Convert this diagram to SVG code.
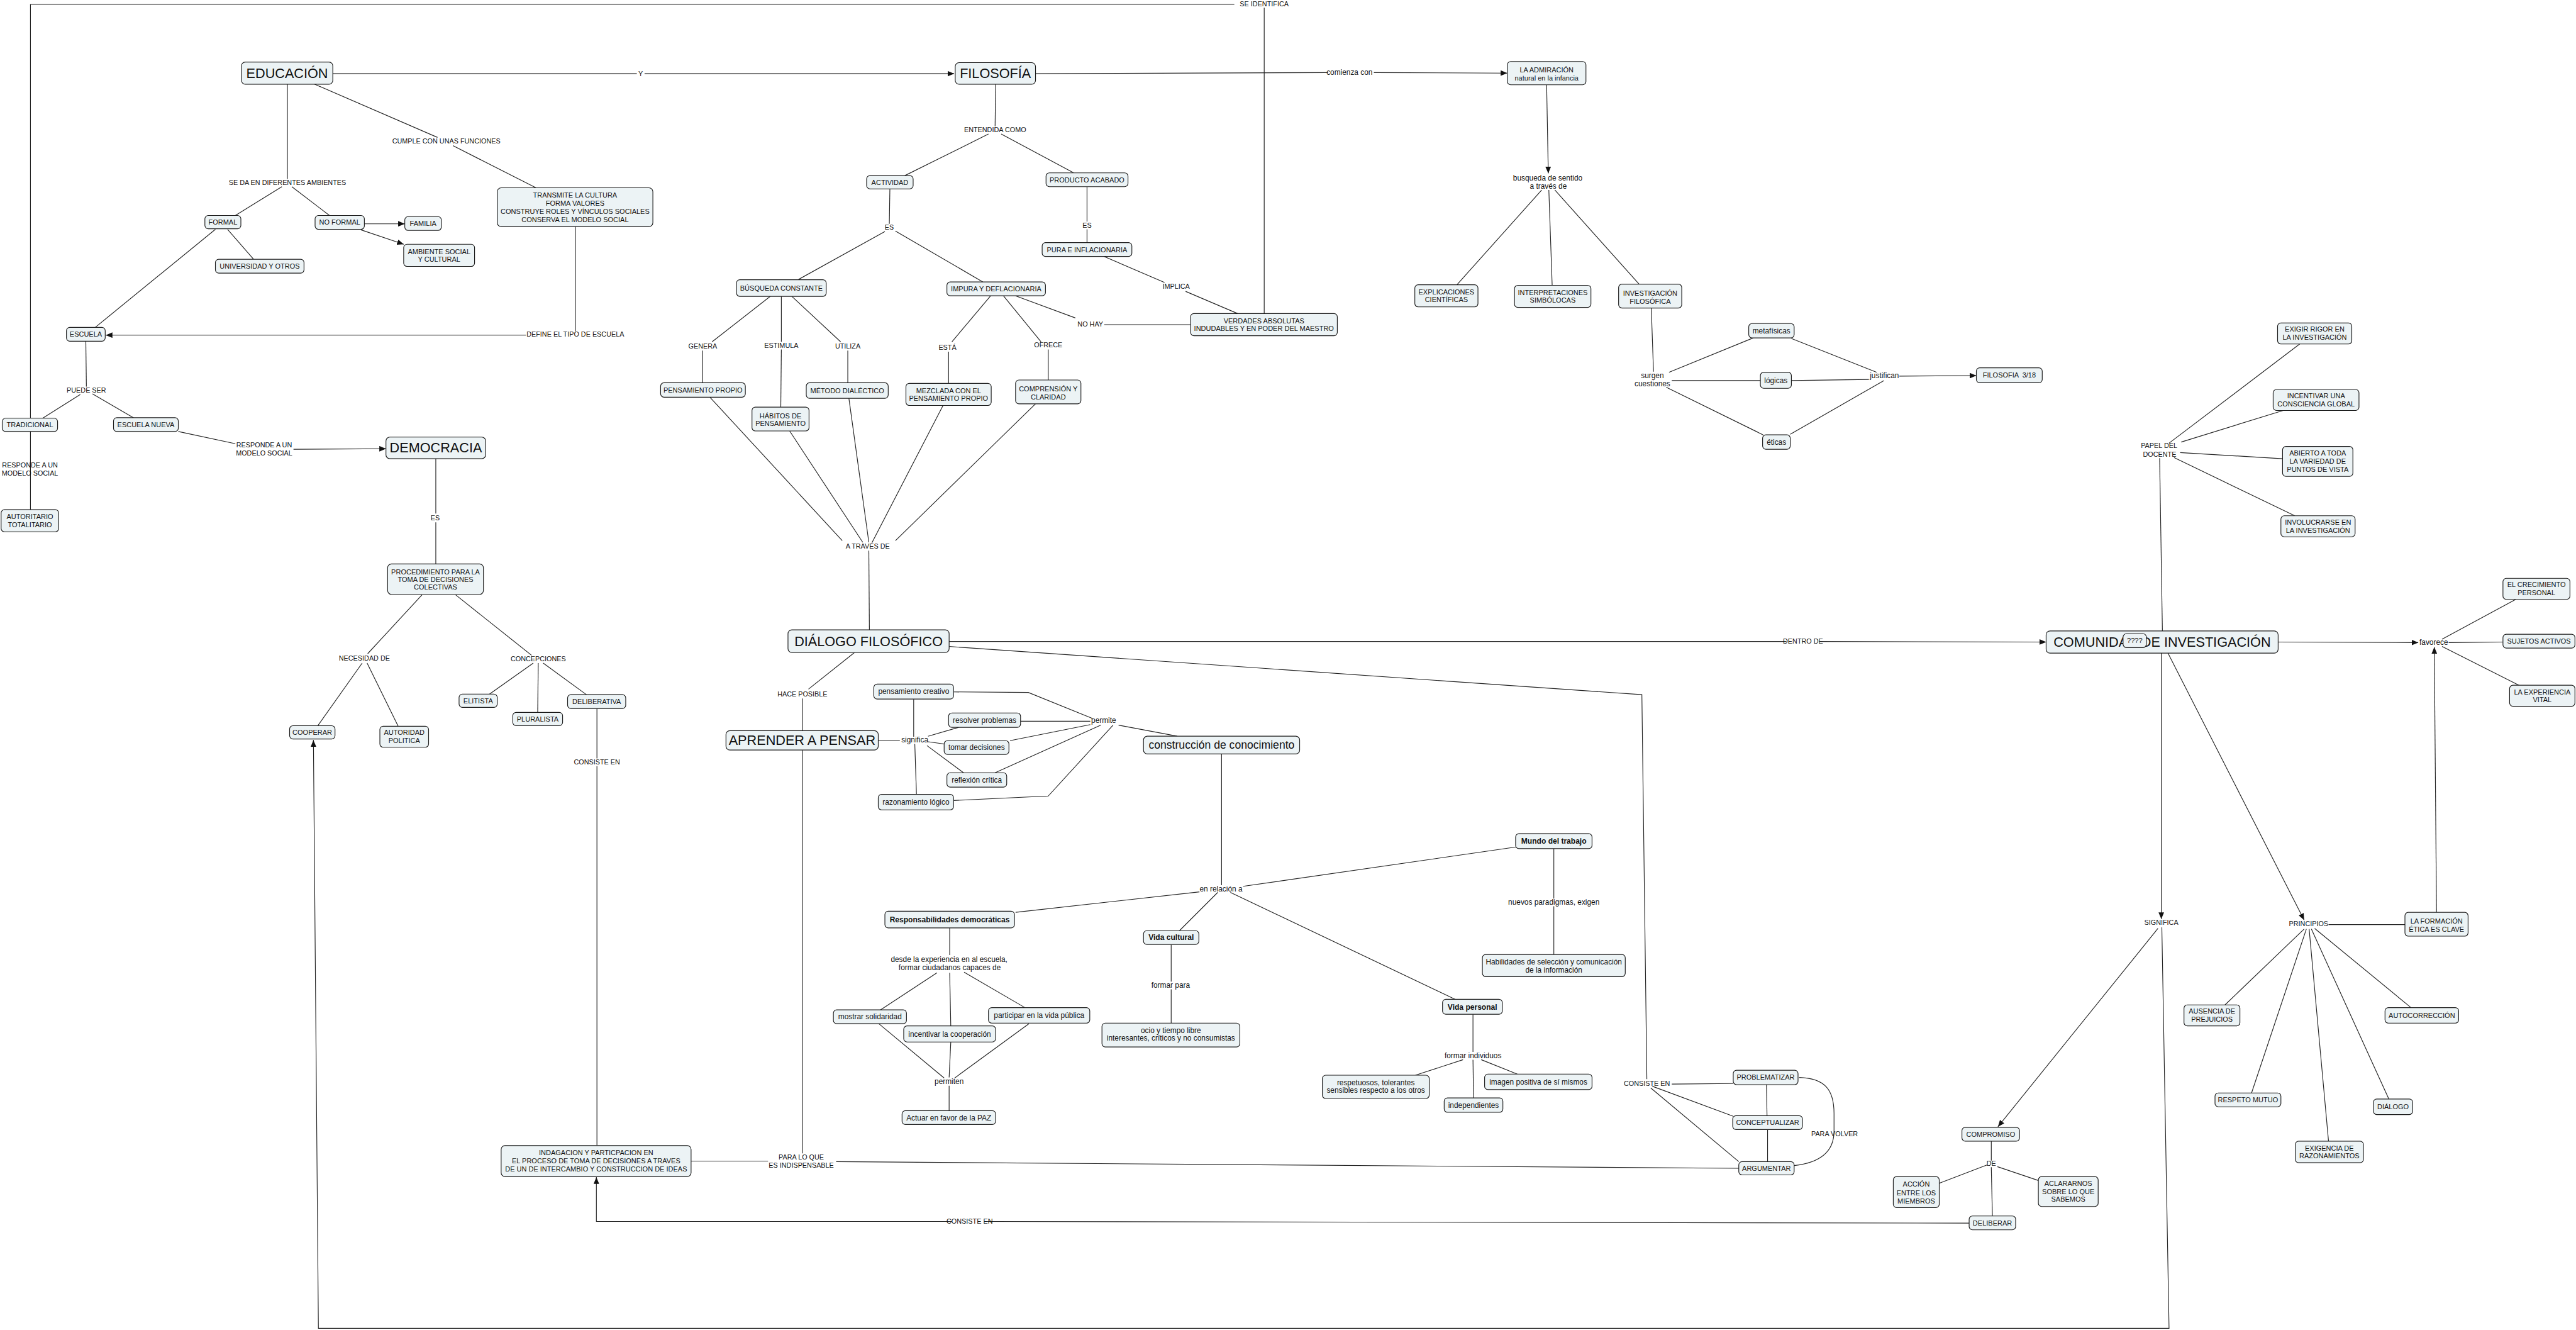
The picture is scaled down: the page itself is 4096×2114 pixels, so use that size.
<svg xmlns="http://www.w3.org/2000/svg" width="4096" height="2114" viewBox="0 0 4096 2114">
<style>
.box{fill:#ecf3f5;stroke:#1a1a1a;stroke-width:1.3}
.c{fill:none;stroke:#222;stroke-width:1.3}
text{font-family:"Liberation Sans",Arial,sans-serif;fill:#111;text-anchor:middle;white-space:pre}
.n{font-size:12.5px}
.nl{font-size:13.5px}
.nb{font-size:13.7px;font-weight:bold}
.big{font-size:24.6px}
.med{font-size:20px}
.lab{font-size:12.3px}
.labl{font-size:13.5px}
</style>
<defs>
<marker id="a" viewBox="0 0 12 10" refX="12" refY="5" markerWidth="12" markerHeight="10" markerUnits="userSpaceOnUse" orient="auto"><path d="M0,0 L12,5 L0,10 z" fill="#111"/></marker>
</defs>
<rect width="4096" height="2114" fill="#fff"/>
<g transform="scale(0.8805)">
<g id="connectors">
<path class="c" d="M601,133 L1150,133"/>
<path class="c" d="M1164,133 L1723,133" marker-end="url(#a)"/>
<path class="c" d="M568,152 L790,248"/>
<path class="c" d="M818,263 L968,339"/>
<path class="c" d="M519,152 L519,323"/>
<path class="c" d="M509,337 L425,389"/>
<path class="c" d="M527,337 L595,389"/>
<path class="c" d="M658,404 L731,404" marker-end="url(#a)"/>
<path class="c" d="M652,415 L729,441" marker-end="url(#a)"/>
<path class="c" d="M411,414 L458,468"/>
<path class="c" d="M389,414 L172,591"/>
<path class="c" d="M1039,409 L1039,598"/>
<path class="c" d="M950,605 L191,605" marker-end="url(#a)"/>
<path class="c" d="M155,616 L156,698"/>
<path class="c" d="M145,712 L77,755"/>
<path class="c" d="M167,711 L241,754"/>
<path class="c" d="M322,779 L425,801"/>
<path class="c" d="M530,811 L697,810" marker-end="url(#a)"/>
<path class="c" d="M55,779 L55,920"/>
<path class="c" d="M2283,566 L2283,14"/>
<path class="c" d="M2229,8 L55,8 L55,755"/>
<path class="c" d="M787,828 L787,927"/>
<path class="c" d="M787,943 L787,1018"/>
<path class="c" d="M762,1074 L664,1180"/>
<path class="c" d="M654,1197 L574,1310"/>
<path class="c" d="M663,1197 L719,1311"/>
<path class="c" d="M823,1074 L960,1183"/>
<path class="c" d="M963,1197 L884,1253"/>
<path class="c" d="M972,1197 L971,1286"/>
<path class="c" d="M981,1197 L1059,1254"/>
<path class="c" d="M1078,1279 L1078,1369"/>
<path class="c" d="M1078,1383 L1078,2068"/>
<path class="c" d="M3904,1674 L3917,2398 L575,2398 L566,1336" marker-end="url(#a)"/>
<path class="c" d="M1870,133 L2398,131"/>
<path class="c" d="M2481,131 L2722,132" marker-end="url(#a)"/>
<path class="c" d="M2793,153 L2796,313" marker-end="url(#a)"/>
<path class="c" d="M2784,343 L2631,514"/>
<path class="c" d="M2797,343 L2803,515"/>
<path class="c" d="M2808,343 L2960,513"/>
<path class="c" d="M2982,556 L2986,671"/>
<path class="c" d="M3014,672 L3166,610"/>
<path class="c" d="M3019,687 L3179,687"/>
<path class="c" d="M3009,699 L3184,785"/>
<path class="c" d="M3235,611 L3389,672"/>
<path class="c" d="M3235,687 L3375,685"/>
<path class="c" d="M3233,784 L3402,687"/>
<path class="c" d="M3430,679 L3569,678" marker-end="url(#a)"/>
<path class="c" d="M1798,152 L1797,228"/>
<path class="c" d="M1785,242 L1634,317"/>
<path class="c" d="M1808,242 L1939,312"/>
<path class="c" d="M1963,337 L1963,400"/>
<path class="c" d="M1963,414 L1963,438"/>
<path class="c" d="M1994,463 L2103,510"/>
<path class="c" d="M2141,526 L2235,566"/>
<path class="c" d="M1607,341 L1606,404"/>
<path class="c" d="M1598,418 L1441,505"/>
<path class="c" d="M1617,417 L1775,509"/>
<path class="c" d="M1834,534 L1942,574"/>
<path class="c" d="M1994,586 L2150,586"/>
<path class="c" d="M1391,535 L1286,617"/>
<path class="c" d="M1269,633 L1269,691"/>
<path class="c" d="M1411,535 L1411,617"/>
<path class="c" d="M1411,631 L1410,735"/>
<path class="c" d="M1430,535 L1518,617"/>
<path class="c" d="M1531,633 L1531,691"/>
<path class="c" d="M1789,534 L1719,617"/>
<path class="c" d="M1713,635 L1713,692"/>
<path class="c" d="M1812,534 L1880,617"/>
<path class="c" d="M1893,631 L1893,686"/>
<path class="c" d="M1282,717 L1521,976"/>
<path class="c" d="M1426,778 L1558,979"/>
<path class="c" d="M1533,719 L1569,979"/>
<path class="c" d="M1703,732 L1575,979"/>
<path class="c" d="M1870,729 L1617,976"/>
<path class="c" d="M1569,994 L1570,1137"/>
<path class="c" d="M1714,1158 L3226,1158"/>
<path class="c" d="M3287,1158 L3695,1159" marker-end="url(#a)"/>
<path class="c" d="M1714,1167 L2965,1254 L2974,1948"/>
<path class="c" d="M3019,1957 L3130,1956"/>
<path class="c" d="M2984,1961 L3130,2015"/>
<path class="c" d="M2981,1964 L3140,2097"/>
<path class="c" d="M3190,1958 L3191,2014"/>
<path class="c" d="M3192,2039 L3192,2097"/>
<path class="c" d="M3240,2104 C3296,2098 3312,2072 3312,2042 L3312,2010 C3312,1968 3296,1946 3249,1945"/>
<path class="c" d="M1543,1178 L1460,1244"/>
<path class="c" d="M1449,1261 L1449,1319"/>
<path class="c" d="M1586,1337 L1625,1337"/>
<path class="c" d="M1650,1330 L1650,1262"/>
<path class="c" d="M1652,1343 L1655,1434"/>
<path class="c" d="M1676,1329 L1731,1313"/>
<path class="c" d="M1676,1339 L1705,1343"/>
<path class="c" d="M1674,1346 L1740,1395"/>
<path class="c" d="M1722,1249 L1857,1250 L1973,1297"/>
<path class="c" d="M1843,1302 L1969,1302"/>
<path class="c" d="M1824,1337 L1969,1308"/>
<path class="c" d="M1797,1395 L1988,1309"/>
<path class="c" d="M1722,1445 L1893,1437 L2010,1309"/>
<path class="c" d="M2020,1309 L2126,1329"/>
<path class="c" d="M2206,1361 L2206,1598"/>
<path class="c" d="M2166,1610 L1834,1647"/>
<path class="c" d="M2199,1611 L2130,1680"/>
<path class="c" d="M2222,1611 L2628,1804"/>
<path class="c" d="M2245,1600 L2738,1529"/>
<path class="c" d="M2806,1532 L2806,1622"/>
<path class="c" d="M2806,1636 L2806,1723"/>
<path class="c" d="M1715,1675 L1715,1724"/>
<path class="c" d="M1692,1756 L1590,1823"/>
<path class="c" d="M1715,1756 L1717,1852"/>
<path class="c" d="M1741,1755 L1851,1819"/>
<path class="c" d="M1587,1848 L1705,1946"/>
<path class="c" d="M1717,1881 L1714,1945"/>
<path class="c" d="M1858,1848 L1724,1946"/>
<path class="c" d="M1714,1960 L1714,2005"/>
<path class="c" d="M2115,1705 L2115,1772"/>
<path class="c" d="M2115,1786 L2115,1847"/>
<path class="c" d="M2660,1831 L2660,1899"/>
<path class="c" d="M2642,1913 L2556,1941"/>
<path class="c" d="M2675,1913 L2740,1939"/>
<path class="c" d="M2660,1913 L2661,1982"/>
<path class="c" d="M1449,1354 L1449,2082"/>
<path class="c" d="M1387,2096 L1248,2096"/>
<path class="c" d="M1510,2097 L3140,2109"/>
<path class="c" d="M3556,2208 L1783,2205"/>
<path class="c" d="M1719,2205 L1077,2205 L1077,2125" marker-end="url(#a)"/>
<path class="c" d="M3905,1139 L3900,827"/>
<path class="c" d="M3917,800 L4153,621"/>
<path class="c" d="M3939,798 L4123,741"/>
<path class="c" d="M3937,817 L4122,828"/>
<path class="c" d="M3926,826 L4144,931"/>
<path class="c" d="M4114,1159 L4367,1160" marker-end="url(#a)"/>
<path class="c" d="M4410,1154 L4543,1082"/>
<path class="c" d="M4422,1160 L4520,1159"/>
<path class="c" d="M4410,1167 L4549,1237"/>
<path class="c" d="M4400,1647 L4396,1168" marker-end="url(#a)"/>
<path class="c" d="M3903,1179 L3903,1659" marker-end="url(#a)"/>
<path class="c" d="M3915,1179 L4161,1661" marker-end="url(#a)"/>
<path class="c" d="M3897,1676 L3608,2034" marker-end="url(#a)"/>
<path class="c" d="M4205,1669 L4343,1669"/>
<path class="c" d="M4161,1677 L4018,1814"/>
<path class="c" d="M4165,1677 L4066,1973"/>
<path class="c" d="M4170,1677 L4205,2060"/>
<path class="c" d="M4174,1677 L4314,1984"/>
<path class="c" d="M4180,1676 L4354,1819"/>
<path class="c" d="M3596,2060 L3596,2095"/>
<path class="c" d="M3607,2106 L3681,2131"/>
<path class="c" d="M3588,2103 L3502,2136"/>
<path class="c" d="M3596,2107 L3598,2195"/>
</g>
<g id="labels">
<text class="lab" x="1157" y="137">Y</text>
<text class="lab" x="806" y="259">CUMPLE CON UNAS FUNCIONES</text>
<text class="lab" x="519" y="334">SE DA EN DIFERENTES AMBIENTES</text>
<text class="lab" x="1039" y="608">DEFINE EL TIPO DE ESCUELA</text>
<text class="lab" x="156" y="709">PUEDE SER</text>
<text class="lab" x="477" y="808">RESPONDE A UN<tspan x="477" dy="14.3">MODELO SOCIAL</tspan></text>
<text class="lab" x="54" y="844">RESPONDE A UN<tspan x="54" dy="14.5">MODELO SOCIAL</tspan></text>
<text class="lab" x="786" y="939">ES</text>
<text class="lab" x="658" y="1193">NECESIDAD DE</text>
<text class="lab" x="972" y="1194">CONCEPCIONES</text>
<text class="lab" x="1078" y="1380">CONSISTE EN</text>
<text class="lab" x="2283" y="11">SE IDENTIFICA</text>
<text class="labl" x="2437" y="135.5">comienza con</text>
<text class="labl" x="2795" y="325.5">busqueda de sentido<tspan x="2796" dy="14.8">a través de</tspan></text>
<text class="lab" x="1797" y="239">ENTENDIDA COMO</text>
<text class="lab" x="1963" y="411">ES</text>
<text class="lab" x="2124" y="521">IMPLICA</text>
<text class="lab" x="1606" y="415">ES</text>
<text class="lab" x="1969" y="589">NO HAY</text>
<text class="lab" x="1269" y="629">GENERA</text>
<text class="lab" x="1411" y="628">ESTIMULA</text>
<text class="lab" x="1531" y="629">UTILIZA</text>
<text class="lab" x="1711" y="632">ESTÁ</text>
<text class="lab" x="1893" y="627">OFRECE</text>
<text class="lab" x="1567" y="990">A TRAVÉS DE</text>
<text class="labl" x="2984" y="682.5">surgen<tspan x="2984" dy="14.3">cuestiones</tspan></text>
<text class="labl" x="3403" y="682.5">justifican</text>
<text class="lab" x="3899" y="809">PAPEL DEL<tspan x="3900" dy="15">DOCENTE</tspan></text>
<text class="lab" x="3256" y="1162">DENTRO DE</text>
<text class="labl" x="4395" y="1164.5">favorece</text>
<text class="lab" x="1449" y="1257">HACE POSIBLE</text>
<text class="labl" x="1652" y="1340.5">significa</text>
<text class="labl" x="1993" y="1305.5">permite</text>
<text class="labl" x="2205" y="1609.5">en relación a</text>
<text class="labl" x="2806" y="1633.5">nuevos paradigmas, exigen</text>
<text class="labl" x="1714" y="1736.5">desde la experiencia en al escuela,<tspan x="1715" dy="14.8">formar ciudadanos capaces de</tspan></text>
<text class="labl" x="1714" y="1956.5">permiten</text>
<text class="labl" x="2114" y="1783.5">formar para</text>
<text class="labl" x="2660" y="1910.5">formar individuos</text>
<text class="lab" x="2974" y="1960">CONSISTE EN</text>
<text class="lab" x="3313" y="2051">PARA VOLVER</text>
<text class="lab" x="1447" y="2093">PARA LO QUE<tspan x="1447" dy="14.5">ES INDISPENSABLE</tspan></text>
<text class="lab" x="1751" y="2209">CONSISTE EN</text>
<text class="lab" x="3903" y="1670">SIGNIFICA</text>
<text class="lab" x="4169" y="1672">PRINCIPIOS</text>
<text class="lab" x="3596" y="2105">DE</text>
</g>
<g id="n1"><rect class="box" x="436" y="112" width="165" height="40" rx="7"/><text class="big" x="518.5" y="140.6">EDUCACIÓN</text></g>
<g id="n2"><rect class="box" x="1725" y="113" width="145" height="39" rx="7"/><text class="big" x="1797.5" y="141">FILOSOFÍA</text></g>
<g id="n3"><rect class="box" x="2722" y="111" width="142" height="42" rx="6"/><text class="n" x="2793" y="131">LA ADMIRACIÓN<tspan x="2793" dy="14.5">natural en la infancia</tspan></text></g>
<g id="n4"><rect class="box" x="370" y="389" width="65" height="24" rx="6"/><text class="n" x="402.5" y="405.4">FORMAL</text></g>
<g id="n5"><rect class="box" x="569" y="389" width="89" height="25" rx="6"/><text class="n" x="613.5" y="405.9">NO FORMAL</text></g>
<g id="n6"><rect class="box" x="731" y="391" width="66" height="25" rx="6"/><text class="n" x="764" y="407.9">FAMILIA</text></g>
<g id="n7"><rect class="box" x="729" y="441" width="128" height="40" rx="6"/><text class="n" x="793" y="458.4">AMBIENTE SOCIAL<tspan x="793" dy="14.5">Y CULTURAL</tspan></text></g>
<g id="n8"><rect class="box" x="389" y="468" width="160" height="25" rx="6"/><text class="n" x="469" y="484.9">UNIVERSIDAD Y OTROS</text></g>
<g id="n9"><rect class="box" x="898" y="339" width="281" height="70" rx="7"/><text class="n" x="1038.5" y="356.9">TRANSMITE LA CULTURA<tspan x="1038.5" dy="14.5">FORMA VALORES</tspan><tspan x="1038.5" dy="14.5">CONSTRUYE ROLES Y VÍNCULOS SOCIALES</tspan><tspan x="1038.5" dy="14.5">CONSERVA EL MODELO SOCIAL</tspan></text></g>
<g id="n10"><rect class="box" x="120" y="591" width="70" height="25" rx="6"/><text class="n" x="155" y="607.9">ESCUELA</text></g>
<g id="n11"><rect class="box" x="4" y="755" width="100" height="24" rx="6"/><text class="n" x="54" y="771.4">TRADICIONAL</text></g>
<g id="n12"><rect class="box" x="205" y="754" width="117" height="25" rx="6"/><text class="n" x="263.5" y="770.9">ESCUELA NUEVA</text></g>
<g id="n13"><rect class="box" x="697" y="789" width="180" height="39" rx="7"/><text class="big" x="787" y="817">DEMOCRACIA</text></g>
<g id="n14"><rect class="box" x="2" y="920" width="104" height="40" rx="6"/><text class="n" x="54" y="937.4">AUTORITARIO<tspan x="54" dy="14">TOTALITARIO</tspan></text></g>
<g id="n15"><rect class="box" x="700" y="1018" width="173" height="55" rx="7"/><text class="n" x="786.5" y="1036.4">PROCEDIMIENTO PARA LA<tspan x="786.5" dy="14">TOMA DE DECISIONES</tspan><tspan x="786.5" dy="14">COLECTIVAS</tspan></text></g>
<g id="n16"><rect class="box" x="523" y="1310" width="82" height="24" rx="6"/><text class="n" x="564" y="1326.4">COOPERAR</text></g>
<g id="n17"><rect class="box" x="686" y="1311" width="88" height="38" rx="6"/><text class="n" x="730" y="1326.9">AUTORIDAD<tspan x="730" dy="14.2">POLITICA</tspan></text></g>
<g id="n18"><rect class="box" x="829" y="1253" width="69" height="24" rx="6"/><text class="n" x="863.5" y="1269.4">ELITISTA</text></g>
<g id="n19"><rect class="box" x="926" y="1286" width="90" height="24" rx="6"/><text class="n" x="971" y="1302.4">PLURALISTA</text></g>
<g id="n20"><rect class="box" x="1025" y="1254" width="105" height="25" rx="6"/><text class="n" x="1077.5" y="1270.9">DELIBERATIVA</text></g>
<g id="n21"><rect class="box" x="905" y="2068" width="343" height="56" rx="7"/><text class="n" x="1076.5" y="2085.4">INDAGACION Y PARTICPACION EN<tspan x="1076.5" dy="15">EL PROCESO DE TOMA DE DECISIONES A TRAVES</tspan><tspan x="1076.5" dy="14">DE UN DE INTERCAMBIO Y CONSTRUCCION DE IDEAS</tspan></text></g>
<g id="n22"><rect class="box" x="1565" y="317" width="84" height="24" rx="6"/><text class="n" x="1607" y="333.4">ACTIVIDAD</text></g>
<g id="n23"><rect class="box" x="1889" y="312" width="148" height="25" rx="6"/><text class="n" x="1963" y="328.9">PRODUCTO ACABADO</text></g>
<g id="n24"><rect class="box" x="1882" y="438" width="162" height="25" rx="6"/><text class="n" x="1963" y="454.9">PURA E INFLACIONARIA</text></g>
<g id="n25"><rect class="box" x="2150" y="566" width="265" height="40" rx="6"/><text class="n" x="2282.5" y="583.4">VERDADES ABSOLUTAS<tspan x="2282.5" dy="14">INDUDABLES Y EN PODER DEL MAESTRO</tspan></text></g>
<g id="n26"><rect class="box" x="1330" y="505" width="162" height="30" rx="6"/><text class="n" x="1411" y="524.4">BÚSQUEDA CONSTANTE</text></g>
<g id="n27"><rect class="box" x="1710" y="509" width="178" height="25" rx="6"/><text class="n" x="1799" y="525.9">IMPURA Y DEFLACIONARIA</text></g>
<g id="n28"><rect class="box" x="1193" y="691" width="153" height="26" rx="6"/><text class="n" x="1269.5" y="708.4">PENSAMIENTO PROPIO</text></g>
<g id="n29"><rect class="box" x="1358" y="735" width="103" height="43" rx="6"/><text class="n" x="1409.5" y="754.9">HÁBITOS DE<tspan x="1409.5" dy="14.3">PENSAMIENTO</tspan></text></g>
<g id="n30"><rect class="box" x="1456" y="691" width="148" height="28" rx="6"/><text class="n" x="1530" y="709.4">MÉTODO DIALÉCTICO</text></g>
<g id="n31"><rect class="box" x="1636" y="692" width="154" height="40" rx="6"/><text class="n" x="1713" y="709.4">MEZCLADA CON EL<tspan x="1713" dy="14.4">PENSAMIENTO PROPIO</tspan></text></g>
<g id="n32"><rect class="box" x="1834" y="686" width="118" height="43" rx="6"/><text class="n" x="1893" y="705.9">COMPRENSIÓN Y<tspan x="1893" dy="14.8">CLARIDAD</tspan></text></g>
<g id="n33"><rect class="box" x="2555" y="514" width="114" height="40" rx="6"/><text class="n" x="2612" y="531.4">EXPLICACIONES<tspan x="2612" dy="14.3">CIENTÍFICAS</tspan></text></g>
<g id="n34"><rect class="box" x="2735" y="515" width="138" height="40" rx="6"/><text class="n" x="2804" y="532.4">INTERPRETACIONES<tspan x="2804" dy="14.4">SIMBÓLOCAS</tspan></text></g>
<g id="n35"><rect class="box" x="2923" y="513" width="114" height="43" rx="6"/><text class="n" x="2980" y="534">INVESTIGACIÓN<tspan x="2980" dy="14.3">FILOSÓFICA</tspan></text></g>
<g id="n36"><rect class="box" x="3158" y="584" width="82" height="26" rx="6"/><text class="nl" x="3199" y="601.7">metafísicas</text></g>
<g id="n37"><rect class="box" x="3179" y="672" width="56" height="29" rx="6"/><text class="nl" x="3207" y="691.2">lógicas</text></g>
<g id="n38"><rect class="box" x="3183" y="785" width="50" height="26" rx="6"/><text class="nl" x="3208" y="802.7">éticas</text></g>
<g id="n39"><rect class="box" x="3569" y="664" width="119" height="27" rx="6"/><text class="n" x="3628.5" y="681.9">FILOSOFIA  3/18</text></g>
<g id="n40"><rect class="box" x="4113" y="583" width="134" height="38" rx="6"/><text class="n" x="4180" y="598.8">EXIGIR RIGOR EN<tspan x="4180" dy="14.3">LA INVESTIGACIÓN</tspan></text></g>
<g id="n41"><rect class="box" x="4105" y="703" width="155" height="38" rx="6"/><text class="n" x="4182.5" y="718.7">INCENTIVAR UNA<tspan x="4182.5" dy="15.3">CONSCIENCIA GLOBAL</tspan></text></g>
<g id="n42"><rect class="box" x="4122" y="806" width="127" height="54" rx="6"/><text class="n" x="4185.5" y="822.4">ABIERTO A TODA<tspan x="4185.5" dy="15">LA VARIEDAD DE</tspan><tspan x="4185.5" dy="14">PUNTOS DE VISTA</tspan></text></g>
<g id="n43"><rect class="box" x="4119" y="931" width="134" height="38" rx="6"/><text class="n" x="4186" y="946.7">INVOLUCRARSE EN<tspan x="4186" dy="14.8">LA INVESTIGACIÓN</tspan></text></g>
<g id="n44"><rect class="box" x="1423" y="1137" width="291" height="41" rx="7"/><text class="big" x="1568.5" y="1166">DIÁLOGO FILOSÓFICO</text></g>
<g id="n45"><rect class="box" x="3695" y="1139" width="419" height="40" rx="7"/><text class="big" x="3904.5" y="1167.5">COMUNIDAD DE INVESTIGACIÓN</text></g>
<g id="n46"><rect class="box" x="3834" y="1144" width="42" height="25" rx="6"/><text class="n" x="3855" y="1160.9">????</text></g>
<g id="n47"><rect class="box" x="4520" y="1044" width="121" height="38" rx="6"/><text class="n" x="4580.5" y="1060">EL CRECIMIENTO<tspan x="4580.5" dy="14.8">PERSONAL</tspan></text></g>
<g id="n48"><rect class="box" x="4520" y="1145" width="130" height="25" rx="6"/><text class="n" x="4585" y="1161.9">SUJETOS ACTIVOS</text></g>
<g id="n49"><rect class="box" x="4532" y="1237" width="118" height="38" rx="6"/><text class="n" x="4591" y="1253.4">LA EXPERIENCIA<tspan x="4591" dy="14.3">VITAL</tspan></text></g>
<g id="n50"><rect class="box" x="1311" y="1319" width="275" height="35" rx="7"/><text class="big" x="1448.5" y="1345">APRENDER A PENSAR</text></g>
<g id="n51"><rect class="box" x="1578" y="1235" width="144" height="27" rx="6"/><text class="nl" x="1650" y="1253.2">pensamiento creativo</text></g>
<g id="n52"><rect class="box" x="1713" y="1287" width="130" height="26" rx="6"/><text class="nl" x="1778" y="1304.7">resolver problemas</text></g>
<g id="n53"><rect class="box" x="1705" y="1337" width="117" height="25" rx="6"/><text class="nl" x="1763.5" y="1354.2">tomar decisiones</text></g>
<g id="n54"><rect class="box" x="1710" y="1395" width="108" height="26" rx="6"/><text class="nl" x="1764" y="1412.7">reflexión crítica</text></g>
<g id="n55"><rect class="box" x="1586" y="1434" width="136" height="28" rx="6"/><text class="nl" x="1654" y="1452.7">razonamiento lógico</text></g>
<g id="n56"><rect class="box" x="2065" y="1329" width="282" height="32" rx="7"/><text class="med" x="2206" y="1352">construcción de conocimiento</text></g>
<g id="n57"><rect class="box" x="2737" y="1505" width="138" height="27" rx="6"/><text class="nb" x="2806" y="1523.3">Mundo del trabajo</text></g>
<g id="n58"><rect class="box" x="2677" y="1723" width="258" height="40" rx="6"/><text class="nl" x="2806" y="1740.7">Habilidades de selección y comunicación<tspan x="2806" dy="15">de la información</tspan></text></g>
<g id="n59"><rect class="box" x="1598" y="1645" width="234" height="30" rx="6"/><text class="nb" x="1715" y="1664.8">Responsabilidades democráticas</text></g>
<g id="n60"><rect class="box" x="2065" y="1680" width="100" height="25" rx="6"/><text class="nb" x="2115" y="1697.3">Vida cultural</text></g>
<g id="n61"><rect class="box" x="2605" y="1804" width="108" height="27" rx="6"/><text class="nb" x="2659" y="1822.3">Vida personal</text></g>
<g id="n62"><rect class="box" x="1505" y="1823" width="132" height="25" rx="6"/><text class="nl" x="1571" y="1840.2">mostrar solidaridad</text></g>
<g id="n63"><rect class="box" x="1632" y="1852" width="166" height="29" rx="6"/><text class="nl" x="1715" y="1871.2">incentivar la cooperación</text></g>
<g id="n64"><rect class="box" x="1785" y="1819" width="183" height="28" rx="6"/><text class="nl" x="1876.5" y="1837.7">participar en la vida pública</text></g>
<g id="n65"><rect class="box" x="1629" y="2005" width="169" height="25" rx="6"/><text class="nl" x="1713.5" y="2022.2">Actuar en favor de la PAZ</text></g>
<g id="n66"><rect class="box" x="1990" y="1847" width="249" height="43" rx="6"/><text class="nl" x="2114.5" y="1864.7">ocio y tiempo libre<tspan x="2114.5" dy="14.3">interesantes, críticos y no consumistas</tspan></text></g>
<g id="n67"><rect class="box" x="2388" y="1941" width="193" height="42" rx="6"/><text class="nl" x="2484.5" y="1958.7">respetuosos, tolerantes<tspan x="2484.5" dy="14.3">sensibles respecto a los otros</tspan></text></g>
<g id="n68"><rect class="box" x="2681" y="1939" width="194" height="28" rx="6"/><text class="nl" x="2778" y="1957.7">imagen positiva de sí mismos</text></g>
<g id="n69"><rect class="box" x="2608" y="1982" width="106" height="26" rx="6"/><text class="nl" x="2661" y="1999.7">independientes</text></g>
<g id="n70"><rect class="box" x="3130" y="1932" width="117" height="26" rx="6"/><text class="n" x="3188.5" y="1949.4">PROBLEMATIZAR</text></g>
<g id="n71"><rect class="box" x="3129" y="2014" width="126" height="25" rx="6"/><text class="n" x="3192" y="2030.9">CONCEPTUALIZAR</text></g>
<g id="n72"><rect class="box" x="3140" y="2097" width="100" height="24" rx="6"/><text class="n" x="3190" y="2113.4">ARGUMENTAR</text></g>
<g id="n73"><rect class="box" x="3419" y="2124" width="83" height="56" rx="6"/><text class="n" x="3460.5" y="2142.4">ACCIÓN<tspan x="3460.5" dy="15">ENTRE LOS</tspan><tspan x="3460.5" dy="15">MIEMBROS</tspan></text></g>
<g id="n74"><rect class="box" x="3543" y="2035" width="104" height="25" rx="6"/><text class="n" x="3595" y="2051.9">COMPROMISO</text></g>
<g id="n75"><rect class="box" x="3681" y="2124" width="108" height="54" rx="6"/><text class="n" x="3735" y="2140.4">ACLARARNOS<tspan x="3735" dy="15">SOBRE LO QUE</tspan><tspan x="3735" dy="14">SABEMOS</tspan></text></g>
<g id="n76"><rect class="box" x="3556" y="2195" width="84" height="25" rx="6"/><text class="n" x="3598" y="2211.9">DELIBERAR</text></g>
<g id="n77"><rect class="box" x="4343" y="1647" width="114" height="43" rx="6"/><text class="n" x="4400" y="1667.4">LA FORMACIÓN<tspan x="4400" dy="15">ÉTICA ES CLAVE</tspan></text></g>
<g id="n78"><rect class="box" x="3944" y="1814" width="101" height="38" rx="6"/><text class="n" x="3994.5" y="1829.7">AUSENCIA DE<tspan x="3994.5" dy="14.7">PREJUICIOS</tspan></text></g>
<g id="n79"><rect class="box" x="4000" y="1973" width="119" height="25" rx="6"/><text class="n" x="4059.5" y="1989.9">RESPETO MUTUO</text></g>
<g id="n80"><rect class="box" x="4145" y="2060" width="123" height="39" rx="6"/><text class="n" x="4206.5" y="2076.9">EXIGENCIA DE<tspan x="4206.5" dy="14.3">RAZONAMIENTOS</tspan></text></g>
<g id="n81"><rect class="box" x="4286" y="1984" width="71" height="28" rx="6"/><text class="n" x="4321.5" y="2002.4">DIÁLOGO</text></g>
<g id="n82"><rect class="box" x="4307" y="1819" width="133" height="28" rx="6"/><text class="n" x="4373.5" y="1837.4">AUTOCORRECCIÓN</text></g>
</g>
</svg>
